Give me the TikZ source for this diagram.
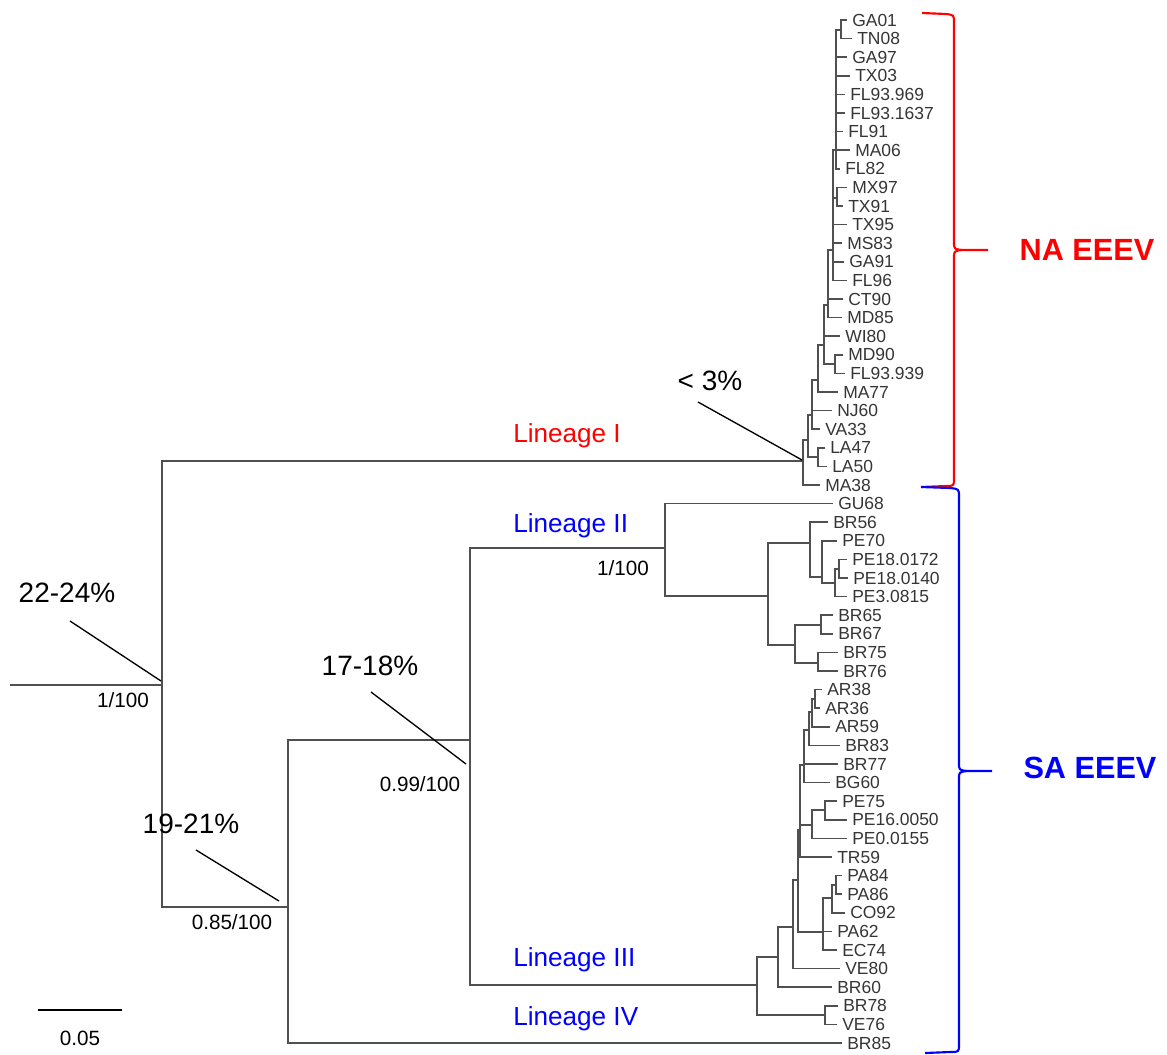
\documentclass[tikz,border=0pt]{standalone}
\usepackage{fontspec}
\setmainfont{Liberation Sans}
\definecolor{treegray}{HTML}{505050}
\definecolor{leafgray}{HTML}{353535}
\definecolor{nared}{HTML}{FF0000}
\definecolor{sablue}{HTML}{0000FF}
\newcommand\lf[3]{%
  \node[leaf] (L#1) at (#3,{20+18.6*#1}) {#2};
  \coordinate (T#1) at ({#3-5},{20+18.6*#1});}
\newcommand\br[2]{\draw[tree] (#1) |- (#2);}
\begin{document}
\begin{tikzpicture}[x=0.75pt,y=-0.75pt,
  tree/.style={draw=treegray,line width=1.2pt},
  leaf/.style={anchor=west,inner sep=0pt,text=leafgray,font=\fontsize{13.1}{14}\selectfont},
  ptr/.style={draw=black,line width=1pt},
  pct/.style={inner sep=0pt,font=\fontsize{21}{22}\selectfont},
  supp/.style={inner sep=0pt,font=\fontsize{15.5}{17}\selectfont},
  lin/.style={anchor=base west,inner sep=0pt,font=\fontsize{19.6}{20}\selectfont},
  clade/.style={inner sep=0pt,font=\bfseries\fontsize{23}{25}\selectfont},
  brace/.style={line width=1.6pt,line join=round}]
\useasboundingbox (0,0) rectangle (1167,1054);
% leaves
\lf{0}{GA01}{852}
\lf{1}{TN08}{857}
\lf{2}{GA97}{852}
\lf{3}{TX03}{855}
\lf{4}{FL93.969}{850}
\lf{5}{FL93.1637}{850}
\lf{6}{FL91}{848}
\lf{7}{MA06}{855}
\lf{8}{FL82}{845}
\lf{9}{MX97}{852}
\lf{10}{TX91}{848}
\lf{11}{TX95}{852}
\lf{12}{MS83}{847}
\lf{13}{GA91}{849}
\lf{14}{FL96}{852}
\lf{15}{CT90}{848}
\lf{16}{MD85}{847}
\lf{17}{WI80}{845}
\lf{18}{MD90}{848}
\lf{19}{FL93.939}{850}
\lf{20}{MA77}{843}
\lf{21}{NJ60}{837}
\lf{22}{VA33}{825}
\lf{23}{LA47}{830}
\lf{24}{LA50}{832}
\lf{25}{MA38}{825}
\lf{26}{GU68}{838}
\lf{27}{BR56}{833}
\lf{28}{PE70}{842}
\lf{29}{PE18.0172}{852}
\lf{30}{PE18.0140}{853}
\lf{31}{PE3.0815}{852}
\lf{32}{BR65}{838}
\lf{33}{BR67}{838}
\lf{34}{BR75}{843}
\lf{35}{BR76}{843}
\lf{36}{AR38}{827}
\lf{37}{AR36}{825}
\lf{38}{AR59}{835}
\lf{39}{BR83}{845}
\lf{40}{BR77}{843}
\lf{41}{BG60}{835}
\lf{42}{PE75}{842}
\lf{43}{PE16.0050}{852}
\lf{44}{PE0.0155}{852}
\lf{45}{TR59}{837}
\lf{46}{PA84}{847}
\lf{47}{PA86}{847}
\lf{48}{CO92}{850}
\lf{49}{PA62}{837}
\lf{50}{EC74}{842}
\lf{51}{VE80}{845}
\lf{52}{BR60}{837}
\lf{53}{BR78}{843}
\lf{54}{VE76}{842}
\lf{55}{BR85}{847}
% internal nodes
\coordinate (stem) at (10,685);
\coordinate (r0) at (162,685);
\coordinate (nNA) at (803,461);
\coordinate (nB) at (288,907);
\coordinate (nC) at (470,740);
\coordinate (nII) at (665,548);
\coordinate (nII2) at (768,596);
\coordinate (nII3) at (810,543);
\coordinate (nII5) at (822,577);
\coordinate (nII6) at (835,583);
\coordinate (nII7) at (839,569);
\coordinate (nII4) at (795,645);
\coordinate (nII8) at (821,625);
\coordinate (nII9) at (818,663);
\coordinate (nIII) at (757,985);
\coordinate (nIV) at (825,1015);
\coordinate (nIIIa) at (778,957);
\coordinate (nD) at (793,927);
\coordinate (nE) at (798,880);
\coordinate (nF) at (800,830);
\coordinate (nPE) at (812,825);
\coordinate (nPE2) at (825,810);
\coordinate (nG) at (804,765);
\coordinate (nH) at (809,730);
\coordinate (nI) at (812,712);
\coordinate (nJ) at (815,699);
\coordinate (nPA) at (823,932);
\coordinate (nPA2) at (832,898);
\coordinate (nPA3) at (836,885);
\coordinate (n2) at (808,440);
\coordinate (nLA) at (818,457);
\coordinate (n3) at (812,415);
\coordinate (n4) at (818,380);
\coordinate (n5) at (824,345);
\coordinate (nMD) at (835,364);
\coordinate (n6) at (828,305);
\coordinate (n7) at (833,250);
\coordinate (nMX) at (837,198);
\coordinate (n8) at (836,150);
\coordinate (n9) at (841,30);
% branches
\draw[tree] (stem) -- (r0);
\br{r0}{nNA}\br{r0}{nB}
\br{nB}{nC}\br{nB}{T55}
\br{nC}{nII}\br{nC}{nIII}
\br{nII}{T26}\br{nII}{nII2}
\br{nII2}{nII3}\br{nII2}{nII4}
\br{nII3}{T27}\br{nII3}{nII5}
\br{nII5}{T28}\br{nII5}{nII6}
\br{nII6}{nII7}\br{nII6}{T31}
\br{nII7}{T29}\br{nII7}{T30}
\br{nII4}{nII8}\br{nII4}{nII9}
\br{nII8}{T32}\br{nII8}{T33}
\br{nII9}{T34}\br{nII9}{T35}
\br{nIII}{nIIIa}\br{nIII}{nIV}
\br{nIV}{T53}\br{nIV}{T54}
\br{nIIIa}{nD}\br{nIIIa}{T52}
\br{nD}{nE}\br{nD}{T51}
\br{nE}{nF}\br{nE}{nPA}
\br{nF}{T45}\br{nF}{nPE}\br{nF}{nG}
\br{nPE}{nPE2}\br{nPE}{T44}
\br{nPE2}{T42}\br{nPE2}{T43}
\br{nG}{T41}\br{nG}{T40}\br{nG}{nH}
\br{nH}{T39}\br{nH}{nI}
\br{nI}{T38}\br{nI}{nJ}
\br{nJ}{T36}\br{nJ}{T37}
\br{nPA}{nPA2}\br{nPA}{T49}\br{nPA}{T50}
\br{nPA2}{nPA3}\br{nPA2}{T48}
\br{nPA3}{T46}\br{nPA3}{T47}
\br{nNA}{T25}\br{nNA}{n2}
\br{n2}{nLA}\br{n2}{n3}
\br{nLA}{T23}\br{nLA}{T24}
\br{n3}{T21}\br{n3}{T22}\br{n3}{n4}
\br{n4}{T20}\br{n4}{n5}
\br{n5}{T17}\br{n5}{nMD}\br{n5}{n6}
\br{nMD}{T18}\br{nMD}{T19}
\br{n6}{T15}\br{n6}{T16}\br{n6}{n7}
\br{n7}{T14}\br{n7}{T13}\br{n7}{T12}\br{n7}{T11}\br{n7}{nMX}\br{n7}{n8}
\br{nMX}{T9}\br{nMX}{T10}
\br{n8}{T8}\br{n8}{T7}\br{n8}{T6}\br{n8}{T5}\br{n8}{T4}\br{n8}{T3}\br{n8}{T2}\br{n8}{n9}
\br{n9}{T0}\br{n9}{T1}
% lineage labels
\node[lin,text=nared] (linI) at (513,442) {Lineage I};
\node[lin,text=sablue] (linII) at (513,532) {Lineage II};
\node[lin,text=sablue] (linIII) at (513,966) {Lineage III};
\node[lin,text=sablue] (linIV) at (513,1025) {Lineage IV};
% support values
\node[supp] (s1) at (123,700) {1/100};
\node[supp] (s2) at (420,784) {0.99/100};
\node[supp] (s3) at (232,922) {0.85/100};
\node[supp] (s4) at (623,568) {1/100};
% divergence labels and pointers
\node[pct] (p1) at (67,593) {22-24\%};
\node[pct] (p2) at (370,666) {17-18\%};
\node[pct] (p3) at (191,824) {19-21\%};
\node[pct] (p4) at (710,381) {< 3\%};
\coordinate (a1) at (70,621); \coordinate (b1) at (161,681);
\coordinate (a2) at (371,692); \coordinate (b2) at (466,764);
\coordinate (a3) at (196,850); \coordinate (b3) at (279,901);
\coordinate (a4) at (698,402); \coordinate (b4) at (802,460);
\draw[ptr] (a1) -- (b1);
\draw[ptr] (a2) -- (b2);
\draw[ptr] (a3) -- (b3);
\draw[ptr] (a4) -- (b4);
% scale bar
\coordinate (sb1) at (38,1010); \coordinate (sb2) at (122,1010);
\draw[line width=0.8pt] (sb1) -- (sb2);
\node[supp] (sbl) at (80,1038) {0.05};
% braces
\draw[brace,draw=nared] (922,13) -- (946,14) .. controls (954,15) .. (954,23) -- (954,242)
  .. controls (954,249) .. (962,250) -- (988,250);
\draw[brace,draw=nared] (962,250) .. controls (954,251) .. (954,258) -- (954,478)
  .. controls (954,486) .. (946,486) -- (921,487);
\draw[brace,draw=sablue] (921,487) -- (950,488) .. controls (959,489) .. (959,497) -- (959,763)
  .. controls (959,770) .. (967,771) -- (992,771);
\draw[brace,draw=sablue] (967,771) .. controls (959,772) .. (959,779) -- (959,1044)
  .. controls (959,1052) .. (950,1052) -- (925,1053);
\node[clade,text=nared] (na) at (1087,250) {NA EEEV};
\node[clade,text=sablue] (sa) at (1090,768) {SA EEEV};
\end{tikzpicture}
\end{document}
